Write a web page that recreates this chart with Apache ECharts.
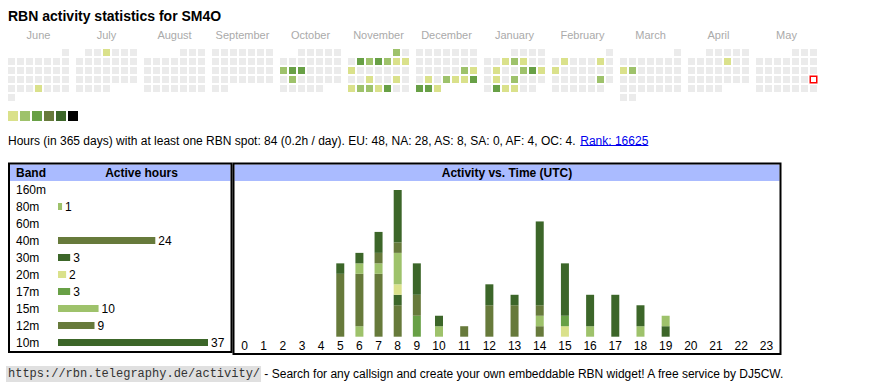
<!DOCTYPE html>
<html><head><meta charset="utf-8">
<script src="https://cdn.jsdelivr.net/npm/echarts@6/dist/echarts.min.js"></script>
<style>html,body{margin:0;padding:0;background:#fff}#c{width:870px;height:390px}</style>
</head><body><div id="c"></div>
<script>
// ---------- data ----------
const callsign = 'SM4O';
const months = ['2024-06','2024-07','2024-08','2024-09','2024-10','2024-11','2024-12','2025-01','2025-02','2025-03','2025-04','2025-05'];
const monthNames = ['June','July','August','September','October','November','December','January','February','March','April','May'];
const activeDays = ['2024-06-26','2024-07-03','2024-10-13','2024-10-14','2024-10-15','2024-10-21',
  '2024-11-01','2024-11-04','2024-11-05','2024-11-06','2024-11-07','2024-11-08','2024-11-09','2024-11-10',
  '2024-11-19','2024-11-22','2024-11-24','2024-11-25','2024-11-26','2024-11-27','2024-11-28',
  '2024-12-20','2024-12-21','2024-12-23','2024-12-25','2024-12-26','2024-12-27','2024-12-28','2024-12-29','2024-12-30','2024-12-31',
  '2025-01-07','2025-01-08','2025-01-09','2025-01-13','2025-01-16','2025-01-17','2025-01-18','2025-01-20','2025-01-22',
  '2025-01-27','2025-01-28','2025-01-29','2025-02-03','2025-02-07','2025-02-09','2025-02-21','2025-03-09','2025-03-10','2025-04-10'];
const activeLevels = [1,1,2,3,3,2,
  2,3,2,3,2,1,1,1,
  1,1,1,2,2,1,3,
  2,1,1,2,1,1,3,3,3,1,
  1,2,1,1,2,3,1,1,2,
  3,1,1,1,1,1,2,1,2,1];
const today = '2025-05-24';
const levels = [1,2,3,4,5,6];
const levelColors = ['#dae18b','#9ec26b','#68a046','#677a3b','#3c6629','#000000'];

const totalHours = 84, periodDays = 365, perDay = '0.2';
const continents = ['EU','NA','AS','SA','AF','OC'];
const continentHours = [48,28,8,0,4,4];
const rank = 16625;

const bands = ['160m','80m','60m','40m','30m','20m','17m','15m','12m','10m'];
const bandHours = [0,1,0,24,3,2,3,10,9,37];
const bandColors = ['#dae18b','#9ec26b','#68a046','#677a3b','#3c6629','#dae18b','#68a046','#9ec26b','#677a3b','#3c6629'];

const hourLabels = ['0','1','2','3','4','5','6','7','8','9','10','11','12','13','14','15','16','17','18','19','20','21','22','23'];
//               0 1 2 3 4 5 6 7 8 9 10 11 12 13 14 15 16 17 18 19 20 21 22 23
const act160m = [0,0,0,0,0,0,0,0,0,0, 0, 0, 0, 0, 0, 0, 0, 0, 0, 0, 0, 0, 0, 0];
const act80m  = [0,0,0,0,0,0,1,0,0,0, 0, 0, 0, 0, 0, 0, 0, 0, 0, 0, 0, 0, 0, 0];
const act60m  = [0,0,0,0,0,0,0,0,0,0, 0, 0, 0, 0, 0, 0, 0, 0, 0, 0, 0, 0, 0, 0];
const act40m  = [0,0,0,0,0,6,5,6,3,0, 0, 0, 0, 3, 1, 0, 0, 0, 0, 0, 0, 0, 0, 0];
const act30m  = [0,0,0,0,0,0,0,0,1,0, 0, 0, 0, 1, 0, 0, 0, 0, 0, 1, 0, 0, 0, 0];
const act20m  = [0,0,0,0,0,0,0,0,1,0, 0, 0, 0, 0, 0, 1, 0, 0, 0, 0, 0, 0, 0, 0];
const act17m  = [0,0,0,0,0,0,0,0,0,2, 0, 0, 0, 0, 0, 1, 0, 0, 0, 0, 0, 0, 0, 0];
const act15m  = [0,0,0,0,0,0,1,1,3,0, 1, 0, 0, 0, 1, 0, 1, 0, 1, 1, 0, 0, 0, 0];
const act12m  = [0,0,0,0,0,0,0,1,1,2, 0, 1, 3, 0, 1, 0, 0, 0, 0, 0, 0, 0, 0, 0];
const act10m  = [0,0,0,0,0,1,1,2,5,3, 1, 0, 2, 0, 8, 5, 3, 4, 2, 0, 0, 0, 0, 0];
const activity = [act160m,act80m,act60m,act40m,act30m,act20m,act17m,act15m,act12m,act10m];

const footerUrl = 'https://rbn.telegraphy.de/activity/';
const footerText = ' - Search for any callsign and create your own embeddable RBN widget! A free service by DJ5CW.';

// ---------- layout helpers ----------
const SANS = '"Liberation Sans", Arial, sans-serif';
const MONO = '"Liberation Mono", "DejaVu Sans Mono", monospace';
const mctx = document.createElement('canvas').getContext('2d');
function textW(t, font) { mctx.font = font; return mctx.measureText(t).width; }

// hour columns sized by their label like an auto-layout table
const colW = hourLabels.map(l => l.length * 6 + 13);
const centers = []; let acc = 0;
colW.forEach(w => { centers.push(acc + w / 2); acc += w; });
const totalW = acc;
function hourOf(v) { let best = 0; centers.forEach((c, i) => { if (Math.abs(c - v) < Math.abs(centers[best] - v)) best = i; }); return hourLabels[best]; }

// ---------- option ----------
const calendars = months.map((m, i) => ({
  orient: 'vertical', range: m, left: 7 + 68 * i, top: 48, cellSize: [9, 9],
  splitLine: { show: false }, dayLabel: { show: false }, monthLabel: { show: false }, yearLabel: { show: false },
  itemStyle: { color: '#ebebeb', borderColor: '#fff', borderWidth: 2 }, silent: true
}));

const heatSeries = months.map((m, i) => ({
  type: 'heatmap', coordinateSystem: 'calendar', calendarIndex: i, silent: true,
  itemStyle: { borderWidth: 0 },
  data: activeDays.map((d, k) => [d, activeLevels[k]]).filter(p => p[0].slice(0, 7) === m)
}));

const todaySeries = {
  type: 'scatter', coordinateSystem: 'calendar', calendarIndex: months.indexOf(today.slice(0, 7)),
  symbol: 'rect', symbolSize: 6.5, silent: true, z: 5,
  itemStyle: { color: '#fff', borderColor: '#ff0000', borderWidth: 1.5, opacity: 1 },
  data: [[today, 1]]
};

const bandSeries = {
  type: 'bar', xAxisIndex: 0, yAxisIndex: 0, barWidth: 7, silent: true,
  data: bandHours.map((v, i) => ({ value: v, itemStyle: { color: bandColors[i] } })),
  label: { show: true, position: 'right', distance: 3, color: '#000', fontSize: 12, fontFamily: SANS,
    formatter: p => p.value ? String(p.value) : '' }
};

// value first so that the stack runs along the y dimension
const actSeries = bands.map((b, i) => ({
  type: 'bar', name: b, xAxisIndex: 1, yAxisIndex: 1, stack: 'hours', barWidth: 8, silent: true,
  itemStyle: { color: bandColors[i] },
  encode: { x: 1, y: 0 },
  data: activity[i].map((v, h) => [v, centers[h]])
}));

const statsMain = 'Hours (in ' + periodDays + ' days) with at least one RBN spot: ' + totalHours + ' (' + perDay + 'h / day). ' +
  continents.map((c, i) => c + ': ' + continentHours[i]).join(', ') + '. ';
const rankText = 'Rank: ' + rank;
const statsFont = '12px ' + SANS;
const statsW = textW(statsMain, statsFont);
const rankW = textW(rankText, statsFont);
const monoFont = '12px ' + MONO;
const urlW = textW(footerUrl, monoFont);

const graphics = [];
graphics.push({ type: 'text', x: 8, y: 16, style: { text: 'RBN activity statistics for ' + callsign, fill: '#000', font: 'bold 14px ' + SANS, verticalAlign: 'middle' } });
monthNames.forEach((n, i) => graphics.push({ type: 'text', x: 7 + 68 * i + 31.5, y: 35,
  style: { text: n, fill: '#aaa', font: '11px ' + SANS, align: 'center', verticalAlign: 'middle' } }));
graphics.push({ type: 'text', x: 8, y: 141, style: { text: statsMain, fill: '#000', font: statsFont, verticalAlign: 'middle' } });
graphics.push({ type: 'text', x: 8 + statsW, y: 141, style: { text: rankText, fill: '#0000ee', font: statsFont, verticalAlign: 'middle' } });
graphics.push({ type: 'line', shape: { x1: 8 + statsW, y1: 145.5, x2: 8 + statsW + rankW, y2: 145.5 }, style: { stroke: '#0000ee', lineWidth: 1 } });
// table boxes
graphics.push({ type: 'rect', z: -1, shape: { x: 10, y: 164.5, width: 220.5, height: 16.5 }, style: { fill: '#aabbff' } });
graphics.push({ type: 'rect', z: -1, shape: { x: 234.5, y: 164.5, width: 545, height: 16.5 }, style: { fill: '#aabbff' } });
graphics.push({ type: 'rect', z: 10, shape: { x: 9, y: 163.5, width: 222.5, height: 188.5 }, style: { fill: 'none', stroke: '#000', lineWidth: 2 } });
graphics.push({ type: 'rect', z: 10, shape: { x: 233.5, y: 163.5, width: 547, height: 190.5 }, style: { fill: 'none', stroke: '#000', lineWidth: 2 } });
graphics.push({ type: 'text', x: 16, y: 173, style: { text: 'Band', fill: '#000', font: 'bold 12px ' + SANS, verticalAlign: 'middle' } });
graphics.push({ type: 'text', x: 141.5, y: 173, style: { text: 'Active hours', fill: '#000', font: 'bold 12px ' + SANS, align: 'center', verticalAlign: 'middle' } });
graphics.push({ type: 'text', x: 507, y: 173, style: { text: 'Activity vs. Time (UTC)', fill: '#000', font: 'bold 12px ' + SANS, align: 'center', verticalAlign: 'middle' } });
// footer
graphics.push({ type: 'rect', z: -1, shape: { x: 6, y: 366, width: urlW + 3, height: 16 }, style: { fill: '#e0e0e0' } });
graphics.push({ type: 'text', x: 8, y: 374, style: { text: footerUrl, fill: '#333', font: monoFont, verticalAlign: 'middle' } });
graphics.push({ type: 'text', x: 8 + urlW + 1, y: 374, style: { text: footerText, fill: '#000', font: '12px ' + SANS, verticalAlign: 'middle' } });

const option = {
  animation: false,
  textStyle: { fontFamily: SANS },
  calendar: calendars,
  visualMap: {
    type: 'piecewise', seriesIndex: heatSeries.map((s, i) => i), orient: 'horizontal',
    left: 8, top: 111, padding: 0, itemWidth: 10, itemHeight: 10, itemGap: 2, itemSymbol: 'rect',
    showLabel: false, selectedMode: false, hoverLink: false,
    pieces: levels.map((l, i) => ({ value: l, color: levelColors[i] }))
  },
  grid: [
    { left: 58, top: 181, width: 150, height: 170 },
    { left: 235, top: 190, width: 544, height: 146.7 }
  ],
  xAxis: [
    { gridIndex: 0, type: 'value', min: 0, max: 'dataMax', show: false },
    { gridIndex: 1, type: 'value', min: 0, max: totalW,
      axisLine: { show: false }, axisTick: { show: false }, splitLine: { show: false },
      axisLabel: { customValues: centers, formatter: v => hourOf(v), color: '#000', fontSize: 12, margin: 3, fontFamily: SANS } }
  ],
  yAxis: [
    { gridIndex: 0, type: 'category', data: bands, inverse: true,
      axisLine: { show: false }, axisTick: { show: false }, splitLine: { show: false },
      axisLabel: { align: 'left', margin: 42, color: '#000', fontSize: 12, fontFamily: SANS } },
    { gridIndex: 1, type: 'value', min: 0, max: 'dataMax', show: false }
  ],
  graphic: graphics,
  series: [...heatSeries, todaySeries, bandSeries, ...actSeries]
};
const chart = echarts.init(document.getElementById('c'), null, { renderer: 'svg', width: 870, height: 390 });
chart.setOption(option);
</script>
</body></html>
